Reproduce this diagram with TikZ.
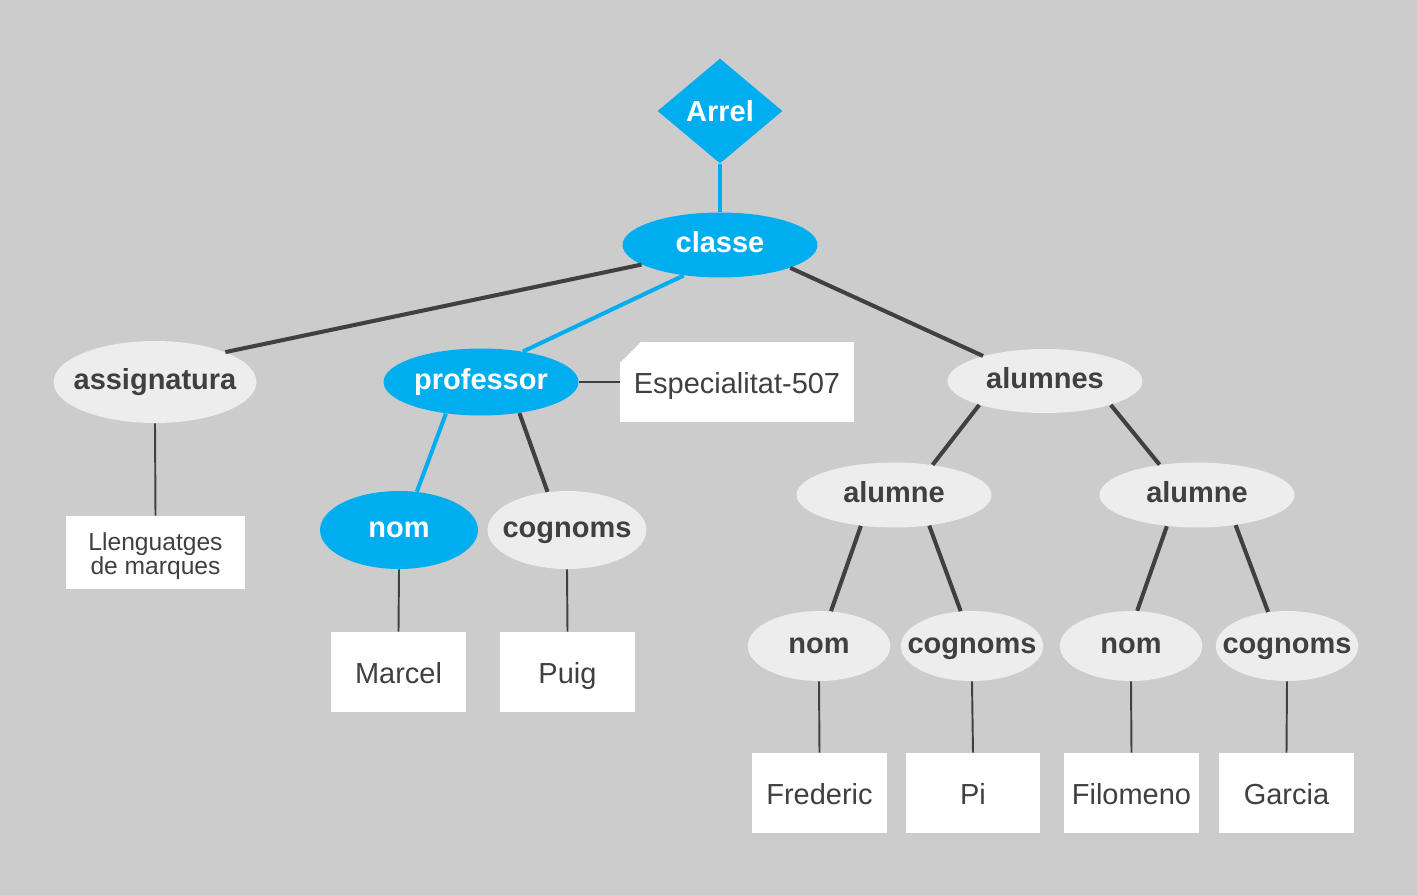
\documentclass[tikz,border=0pt]{standalone}
\usepackage{fontspec}
\setmainfont{Liberation Sans}
\usetikzlibrary{shapes.geometric, shapes.misc}
\definecolor{fons}{HTML}{CCCCCC}
\definecolor{blau}{HTML}{00AEEF}
\definecolor{clar}{HTML}{EDEDED}
\definecolor{fosc}{HTML}{404040}

\begin{document}
\begin{tikzpicture}[x=0.02cm, y=-0.02cm, inner sep=0pt,
    font=\fontsize{16.5}{19}\selectfont,
    elem/.style={ellipse, fill=clar, minimum width=3.9cm, minimum height=1.3cm},
    elemblau/.style={elem, fill=blau},
    petit/.style={elem, minimum width=2.85cm, minimum height=1.4cm},
    valor/.style={rectangle, fill=white, text=fosc, text height=13.4pt, text depth=0pt, minimum width=2.7cm, minimum height=1.6cm},
    every label/.style={font=\fontsize{16.5}{19}\selectfont\bfseries, text=fosc, text height=8.6pt, text depth=0pt},
    gruix/.style={line width=2.3pt, draw=fosc},
    prim/.style={line width=1.1pt, draw=fosc}]
    \fill[fons] (0, 0) rectangle (1417, 895);

    \node[diamond, fill=blau, text=white, font=\fontsize{16.5}{19}\selectfont\bfseries, minimum width=2.5cm, minimum height=2.1cm] (arrel) at (720, 111) {Arrel};
    \node[elemblau, label={[text=white]center:classe}] (classe) at (720, 245) {};
    \node[elem, minimum width=4.06cm, minimum height=1.64cm, label=center:assignatura] (assig) at (155, 382) {};
    \node[elemblau, minimum height=1.34cm, label={[text=white]center:professor}] (prof) at (481, 382) {};
    \node[chamfered rectangle, chamfered rectangle corners=north west, chamfered rectangle xsep=0.24cm, chamfered rectangle ysep=0.18cm, fill=white, text=fosc, text height=13.4pt, text depth=0pt, minimum width=4.68cm, minimum height=1.6cm] (espec) at (737, 382) {Especialitat-507};
    \node[elem, minimum height=1.28cm, label=center:alumnes] (alumnes) at (1045, 381) {};

    \node[elemblau, minimum width=3.16cm, minimum height=1.56cm, label={[text=white]center:nom}] (nom) at (399, 530) {};
    \node[elem, minimum width=3.18cm, minimum height=1.56cm, label=center:cognoms] (cognoms) at (567, 530) {};
    \node[elem, label=center:alumne] (alumneA) at (894, 495) {};
    \node[elem, label=center:alumne] (alumneB) at (1197, 495) {};

    \node[petit, label=center:nom] (nomA) at (819, 646) {};
    \node[petit, label=center:cognoms] (cognomsA) at (972, 646) {};
    \node[petit, label=center:nom] (nomB) at (1131, 646) {};
    \node[petit, label=center:cognoms] (cognomsB) at (1287, 646) {};

    \node[rectangle, fill=white, text=fosc, minimum width=3.58cm, minimum height=1.46cm, align=center, font=\fontsize{14}{15.5}\selectfont] (llenguatge) at (155.5, 552.5) {\rule{0pt}{14.6pt}Llenguatges\\[-1.7pt]de marques};
    \node[valor] (marcel) at (398.5, 672) {Marcel};
    \node[valor] (puig) at (567.5, 672) {Puig};
    \node[valor] (frederic) at (819.5, 793) {Frederic};
    \node[valor] (pi) at (973, 793) {Pi};
    \node[valor] (filomeno) at (1131.5, 793) {Filomeno};
    \node[valor] (garcia) at (1286.5, 793) {Garcia};

    \draw[gruix, draw=blau] (arrel.south) -- (classe.north);
    \draw[gruix] (classe.194) -- (assig.23);
    \draw[gruix, draw=blau] (classe.220) -- (prof.36);
    \draw[gruix] (classe.342) -- (alumnes.158);
    \draw[gruix, draw=blau] (prof.222) -- (nom.65);
    \draw[gruix] (prof.321) -- (cognoms.117);
    \draw[gruix] (alumnes.200) -- (alumneA.38);
    \draw[gruix] (alumnes.340) -- (alumneB.141);
    \draw[gruix] (alumneA.223) -- (nomA.71);
    \draw[gruix] (alumneA.319) -- (cognomsA.108);
    \draw[gruix] (alumneB.226) -- (nomB.80);
    \draw[gruix] (alumneB.322) -- (cognomsB.119);

    \draw[prim] (prof.east) -- (espec.west);
    \draw[prim] (assig.south) -- (llenguatge.north);
    \draw[prim] (nom.south) -- (marcel.north);
    \draw[prim] (cognoms.south) -- (puig.north);
    \draw[prim] (nomA.south) -- (frederic.north);
    \draw[prim] (cognomsA.south) -- (pi.north);
    \draw[prim] (nomB.south) -- (filomeno.north);
    \draw[prim] (cognomsB.south) -- (garcia.north);
\end{tikzpicture}
\end{document}
